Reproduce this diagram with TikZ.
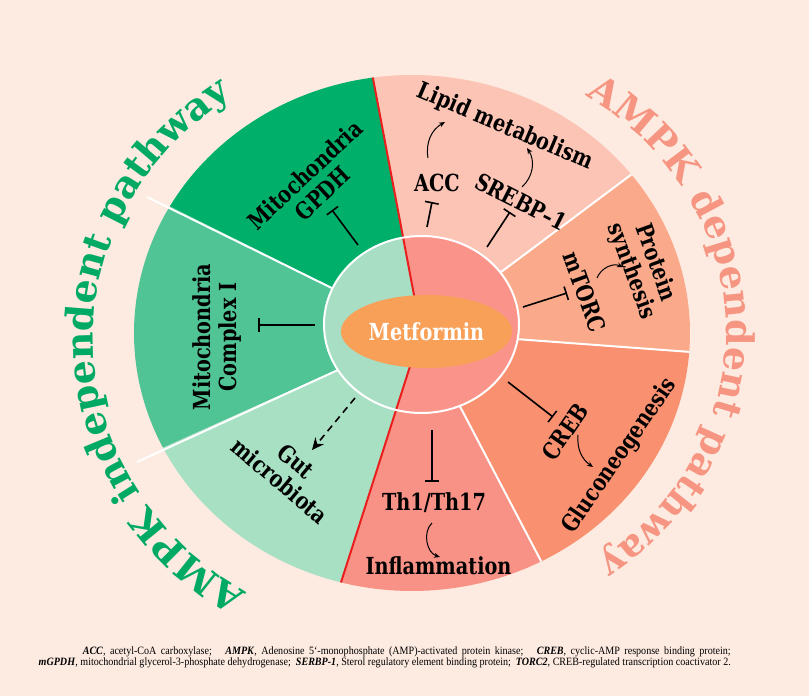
\documentclass[tikz,border=0pt]{standalone}
\usepackage{fontspec}
\setmainfont{Liberation Serif}
\newfontfamily\capfamily[FakeStretch=0.9]{Liberation Serif}
\newfontfamily\lblfamily[FakeStretch=0.82]{DejaVu Serif}
\newfontfamily\arcfamily{DejaVu Serif}
\usetikzlibrary{arrows.meta,decorations.text,shapes.geometric}

\definecolor{bgc}{RGB}{253,235,225}
\definecolor{lipidc}{RGB}{252,196,180}
\definecolor{gpdhc}{RGB}{0,176,106}
\definecolor{cxc}{RGB}{80,196,148}
\definecolor{gutc}{RGB}{168,224,196}
\definecolor{inflc}{RGB}{249,146,134}
\definecolor{gluc}{RGB}{249,144,112}
\definecolor{protc}{RGB}{250,170,138}
\definecolor{ingreen}{RGB}{168,222,196}
\definecolor{inpink}{RGB}{250,148,138}
\definecolor{metc}{RGB}{248,160,88}
\definecolor{gtext}{RGB}{0,170,100}
\definecolor{ptext}{RGB}{246,150,130}
\definecolor{redc}{RGB}{235,30,30}

\newcommand\arcfont{\arcfamily\bfseries\fontsize{38}{40}\selectfont}

\tikzset{
  lbl/.style={font=\lblfamily\bfseries\fontsize{23.5}{25.5}\selectfont, align=center, inner sep=0pt},
  inhib/.style={line width=1.6pt, -{Bar[width=14pt,line width=1.6pt]}},
  act/.style={line width=1pt, -{Stealth[length=6pt,width=5pt]}},
  sep/.style={white, line width=2pt},
  redln/.style={redc, line width=2pt}
}

\begin{document}
\begin{tikzpicture}[x=1pt,y=1pt]
    \useasboundingbox (-421,-364) rectangle (388,332);
    \fill[bgc] (-421,-364) rectangle (388,332);
    \coordinate (O) at (0,0);

    \begin{scope}[shift={(-9,-1)}]
        \foreach \a/\b/\col in {37.9/98.1/lipidc, 98.1/150.6/gpdhc, 150.6/206.4/cxc, 206.4/255.2/gutc, 255.2/297.7/inflc, 297.7/355.8/gluc, -4.2/37.9/protc}
            \fill[\col] (9,1) -- (\a:278 and 258) arc[start angle=\a, end angle=\b, x radius=278, y radius=258] -- cycle;
        \coordinate (rT) at (98.1:278 and 258);
        \coordinate (rB) at (255.2:278 and 258);
        \coordinate (sPL) at (37.9:278 and 258);
        \coordinate (sPG) at (-4.2:278 and 258);
        \coordinate (sGI) at (297.7:278 and 258);
    \end{scope}
    \coordinate (sGC) at (-274,135);
    \coordinate (sCG) at (-284,-130);
    \foreach \s in {sPL,sPG,sGI,sGC,sCG}
        \draw[sep] (O) -- (\s);

    \begin{scope}
        \clip (0.5,7.5) ellipse [x radius=97.5, y radius=88.5];
        \fill[inpink] (-110,-100) rectangle (110,110);
        \fill[ingreen] (O) -- (rT) -- (-300,300) -- (-300,-300) -- (rB) -- cycle;
    \end{scope}
    \draw[redln] (rT) -- (O) -- (rB);
    \draw[white, line width=2pt] (0.5,7.5) ellipse [x radius=97.5, y radius=88.5];
    \node[lbl, ellipse, fill=metc, text=white, minimum width=171, minimum height=73] (met) at (5.5,0.5) {Metformin};

    \node[lbl, rotate=43] (gpdh) at (-107.5,148) {Mitochondria\\GPDH};
    \node[lbl, rotate=90] (cx) at (-204,-5) {Mitochondria\\Complex I};
    \node[lbl, rotate=-40] (gut) at (-133,-139) {Gut\\microbiota};
    \node[lbl, rotate=-23] (lipid) at (84,205) {Lipid metabolism};
    \node[lbl] (acc) at (16,149) {ACC};
    \node[lbl, rotate=-27] (srebp) at (100,130) {SREBP–1};
    \node[lbl, rotate=-70] (prot) at (222,65) {Protein\\synthesis};
    \node[lbl, rotate=-70] (mtorc) at (164,40) {mTORC};
    \node[lbl, rotate=55] (creb) at (144,-100) {CREB};
    \node[lbl, rotate=55.5] (gluco) at (199,-124) {Gluconeogenesis};
    \node[lbl] (th) at (13,-171) {Th1/Th17};
    \node[lbl] (infl) at (17.5,-234) {Inflammation};

    \coordinate (gpdhA) at (-63,87);
    \coordinate (gpdhB) at (-89,122);
    \coordinate (cxA) at (-106,7);
    \coordinate (cxB) at (-163,7);
    \coordinate (accA) at (6,105);
    \coordinate (accB) at (11,130);
    \coordinate (srebpA) at (66,85);
    \coordinate (srebpB) at (89,120);
    \coordinate (mtorcA) at (102,25);
    \coordinate (mtorcB) at (146,39);
    \coordinate (crebA) at (87,-50);
    \coordinate (crebB) at (132,-85);
    \coordinate (thA) at (11,-98);
    \coordinate (thB) at (11,-150);
    \draw[inhib] (gpdhA) -- (gpdhB);
    \draw[inhib] (cxA) -- (cxB);
    \draw[inhib] (accA) -- (accB);
    \draw[inhib] (srebpA) -- (srebpB);
    \draw[inhib] (mtorcA) -- (mtorcB);
    \draw[inhib] (crebA) -- (crebB);
    \draw[inhib] (thA) -- (thB);

    \coordinate (gutA) at (-66,-66);
    \coordinate (gutB) at (-109,-118);
    \draw[line width=1.6pt, dash pattern=on 7pt off 5pt, -{Stealth[length=12pt,width=11pt]}] (gutA) -- (gutB);

    \coordinate (accC) at (7,174);
    \coordinate (lipidA) at (24,210);
    \coordinate (srebpC) at (101,145);
    \coordinate (lipidB) at (106,184);
    \coordinate (mtorcC) at (176,54);
    \coordinate (protA) at (202,65);
    \coordinate (crebC) at (157,-103);
    \coordinate (glucoA) at (172,-135);
    \coordinate (thC) at (11,-191);
    \coordinate (inflA) at (19,-225);
    \draw[act] (accC) to[bend left=35] (lipidA);
    \draw[act] (srebpC) to[bend right=40] (lipidB);
    \draw[act] (mtorcC) to[bend left=45] (protA);
    \draw[act] (crebC) to[bend right=30] (glucoA);
    \draw[act] (thC) to[bend right=60] (inflA);

    \path[decorate, decoration={text along path, text align=center, text={|\arcfont\color{gtext}|AMPK independent pathway}}]
        ([shift={(0,-8)}]251.5:328 and 298) arc[start angle=251.5, end angle=111.5, x radius=328, y radius=298];
    \path[decorate, decoration={text along path, text align=center, text={|\arcfont\color{ptext}|AMPK dependent pathway}}]
        (71.5:305 and 280) arc[start angle=71.5, end angle=-68.5, x radius=305, y radius=280];

    \node[anchor=east, align=right, inner sep=0pt, font=\capfamily\fontsize{11.2}{11.5}\selectfont] (cap) at (310,-325.5)
        {\makebox[648pt][s]{\textbf{\textit{ACC}}, acetyl-CoA carboxylase;\ \ \ \textbf{\textit{AMPK}}, Adenosine 5‘-monophosphate (AMP)-activated protein kinase;\ \ \ \textbf{\textit{CREB}}, cyclic-AMP response binding protein;}\\
         \textbf{\textit{mGPDH}}, mitochondrial glycerol-3-phosphate dehydrogenase;\ \ \textbf{\textit{SERBP-1}}, Sterol regulatory element binding protein;\ \ \textbf{\textit{TORC2}}, CREB-regulated transcription coactivator 2.};
\end{tikzpicture}
\end{document}
